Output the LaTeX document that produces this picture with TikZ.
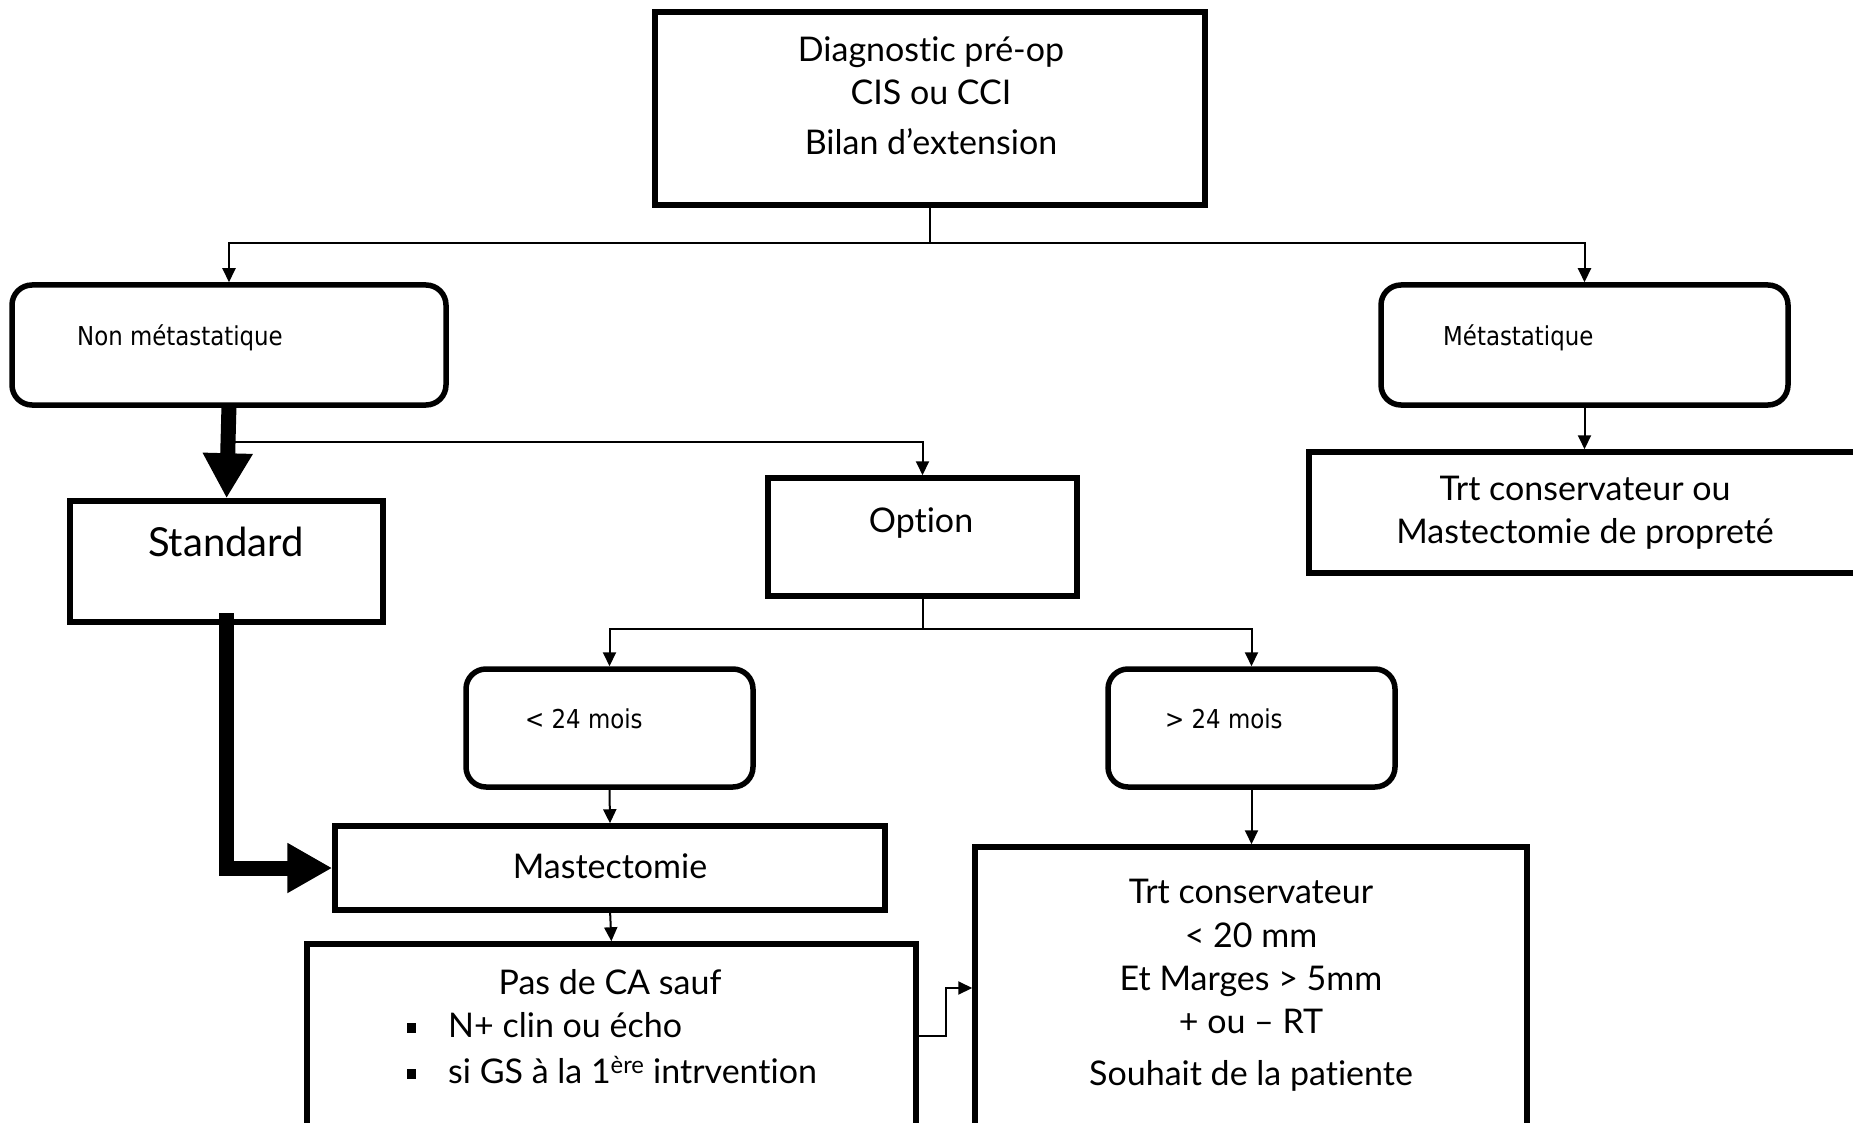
\documentclass[tikz,border=0pt]{standalone}
\usepackage{fontspec}
\setmainfont{Lato}[Ligatures={NoCommon,NoRare}]
\newfontfamily\smallf[FakeStretch=0.88]{DejaVu Sans}
\usetikzlibrary{arrows.meta}
\begin{document}
\begin{tikzpicture}[x=1pt,y=-1pt,
  box/.style={draw=black,line width=5.5pt,rectangle,inner sep=0pt,outer sep=0pt,anchor=north west,fill=white},
  rbox/.style={box,rounded corners=20pt},
  big/.style={font=\fontsize{34}{40}\selectfont,inner sep=0pt,anchor=base},
  lab/.style={font=\smallf\fontsize{26}{30}\selectfont,inner sep=0pt,anchor=base west},
  conn/.style={line width=2pt,-{Triangle[length=14pt,width=13pt]},shorten >=2.75pt},
  plain/.style={line width=2pt},
  heavy/.style={line width=15pt,-{Triangle[length=45pt,width=47pt]},shorten >=2.75pt}]
\useasboundingbox (0,0) rectangle (1853,1123);
\clip (0,0) rectangle (1853,1123);
\fill[white] (0,0) rectangle (1853,1123);
% boxes
\node[box,minimum width=550pt,minimum height=193pt] (top) at (655,12) {};
\node[rbox,minimum width=434pt,minimum height=120pt] (nonmet) at (12,285) {};
\node[rbox,minimum width=407pt,minimum height=120pt] (met) at (1381,285) {};
\node[box,minimum width=600pt,minimum height=121pt] (trtou) at (1309,452) {};
\node[box,minimum width=313pt,minimum height=121pt] (std) at (70,501) {};
\node[box,minimum width=309pt,minimum height=118pt] (opt) at (768,478) {};
\node[rbox,minimum width=287pt,minimum height=118pt] (lt) at (466,669) {};
\node[rbox,minimum width=287pt,minimum height=118pt] (gt) at (1108,669) {};
\node[box,minimum width=550pt,minimum height=84pt] (mast) at (335,826) {};
\node[box,minimum width=552pt,minimum height=400pt] (trtc) at (975,847) {};
\node[box,minimum width=609pt,minimum height=300pt] (pas) at (307,944) {};
% texts
\node[big] (d1) at (931,62) {Diagnostic pré-op};
\node[big] (d2) at (931,105) {CIS ou CCI};
\node[big] (d3) at (931,155) {Bilan d’extension};
\node[lab] (tnm) at (77,345) {Non métastatique};
\node[lab] (tm) at (1443,345) {Métastatique};
\node[big] (o1) at (1585,500) {Trt conservateur ou};
\node[big] (o2) at (1585,543) {Mastectomie de propreté};
\node[big,font=\fontsize{40}{46}\selectfont] (tstd) at (226,556) {Standard};
\node[big] (topt) at (921,532) {Option};
\node[lab] (tlt) at (525,728) {< 24 mois};
\node[lab] (tgt) at (1165,728) {> 24 mois};
\node[big] (tmast) at (610,878) {Mastectomie};
\node[big] (p1) at (610,994) {Pas de CA sauf};
\node[big,anchor=base west] (p2) at (407,1037) {\raisebox{4pt}{\rule{9pt}{10pt}}\hspace{32pt}N+ clin ou écho};
\node[big,anchor=base west] (p3) at (407,1083) {\raisebox{4pt}{\rule{9pt}{10pt}}\hspace{32pt}si GS à la 1\textsuperscript{ère} intrvention};
\node[big] (c1) at (1251,903) {Trt conservateur};
\node[big] (c2) at (1251,947) {< 20 mm};
\node[big] (c3) at (1251,990) {Et Marges > 5mm};
\node[big] (c4) at (1251,1033) {+ ou – RT};
\node[big] (c5) at (1251,1085) {Souhait de la patiente};
% connectors
\coordinate (j1) at (930,243);
\draw[plain] (top.south) -- (top.south |- j1);
\draw[conn] (top.south |- j1) -| (nonmet.north);
\draw[conn] (top.south |- j1) -| (met.north);
\draw[conn] (met.south) -- (met.south |- trtou.north);
\coordinate (j2) at (229,442);
\draw[conn] (j2) -| (opt.north);
\draw[heavy] (nonmet.south) -- (std.north);
\coordinate (j3) at (922,629);
\draw[plain] (opt.south) -- (opt.south |- j3);
\draw[conn] (opt.south |- j3) -| (lt.north);
\draw[conn] (opt.south |- j3) -| (gt.north);
\draw[conn] (lt.south) -- (mast.north);
\draw[conn] (gt.south) -- (gt.south |- trtc.north);
\draw[conn] (mast.south) -- (pas.north);
\coordinate (s1) at (226,613);
\draw[heavy] (s1) |- (mast.west);
\coordinate (q1) at (916,1036);
\coordinate (q2) at (946,988);
\draw[conn] (q1) -| (q2) -- (q2 -| trtc.west);
\end{tikzpicture}
\end{document}
